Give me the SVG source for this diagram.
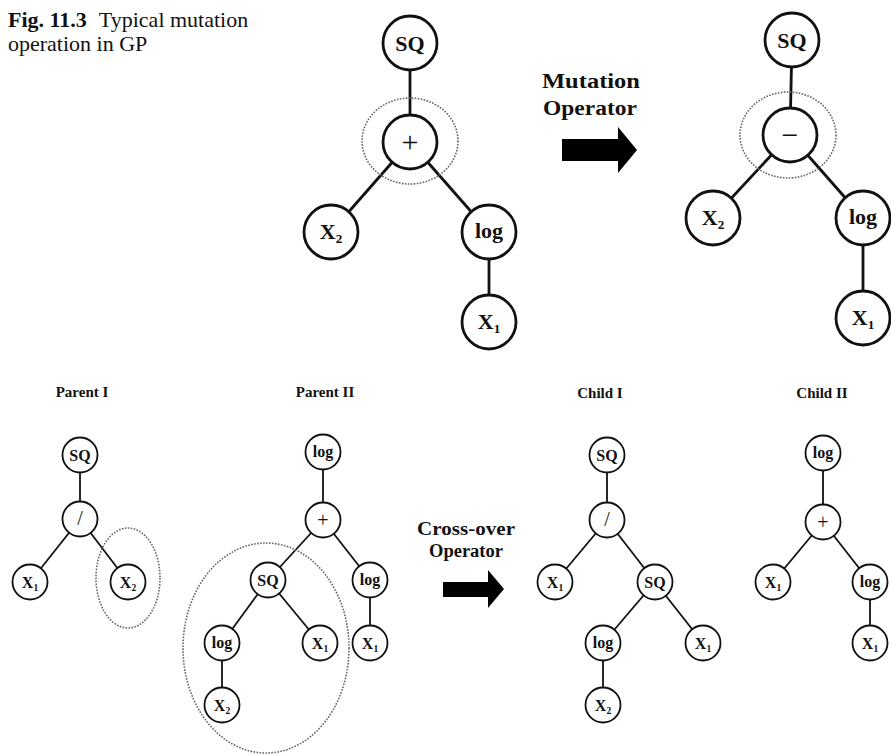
<svg xmlns="http://www.w3.org/2000/svg" width="891" height="754" viewBox="0 0 891 754">
  <style>
    text { font-family: "Liberation Serif", "Times New Roman", serif; fill: #111; }
    .cap { font-size: 22px; }
    .capb { font-size: 22px; font-weight: bold; }
    .op { font-size: 20px; font-weight: bold; text-anchor: middle; }
    .hd { font-size: 15px; font-weight: bold; text-anchor: middle; }
    .big circle { fill: #fff; stroke: #111; stroke-width: 2.8; }
    .big text { font-size: 22px; font-weight: bold; text-anchor: middle; }
    .sm circle { fill: #fff; stroke: #111; stroke-width: 1.8; }
    .sm text { font-size: 16px; font-weight: bold; text-anchor: middle; }
    .big text.sym { font-size: 30px; font-weight: normal; }
    .sm text.sym { font-size: 20px; font-weight: normal; }
    .sub { font-size: 0.6em; }
    .edge-big line { stroke: #111; stroke-width: 2.8; }
    .edge-sm line { stroke: #111; stroke-width: 1.8; }
    .sel { fill: none; stroke: #666; stroke-width: 1.6; stroke-dasharray: 1.6 1.4; }
    .arrow { fill: #000; }
  </style>

  <!-- caption -->
  <text x="8" y="27"><tspan class="capb">Fig. 11.3</tspan><tspan class="cap" dx="12">Typical mutation</tspan></text>
  <text x="8" y="51" class="cap">operation in GP</text>

  <!-- operator labels and block arrows -->
  <g id="mutation-operator">
    <text x="591" y="88" class="op" textLength="98" lengthAdjust="spacingAndGlyphs">Mutation</text>
    <text x="590" y="115" class="op" textLength="94" lengthAdjust="spacingAndGlyphs">Operator</text>
    <polygon class="arrow" points="562,139 618,139 618,127 637,150 618,173 618,161 562,161"/>
  </g>
  <g id="crossover-operator">
    <text x="466" y="535" class="op" style="font-size:18px" textLength="98" lengthAdjust="spacingAndGlyphs">Cross-over</text>
    <text x="466" y="557" class="op" style="font-size:18px" textLength="74" lengthAdjust="spacingAndGlyphs">Operator</text>
    <polygon class="arrow" points="443,582 488,582 488,570 504,589 488,608 488,597 443,597"/>
  </g>

  <!-- tree headings -->
  <text x="82" y="397" class="hd">Parent I</text>
  <text x="325" y="397" class="hd">Parent II</text>
  <text x="600" y="398" class="hd">Child I</text>
  <text x="822" y="398" class="hd">Child II</text>

  <!-- connectors -->
  <g id="connectors">
    <g class="edge-big">
      <!-- original tree -->
      <line x1="410" y1="43" x2="410" y2="142"/>
      <line x1="410" y1="142" x2="331" y2="232"/>
      <line x1="410" y1="142" x2="489" y2="232"/>
      <line x1="489" y1="232" x2="489" y2="322"/>
      <!-- mutated tree -->
      <line x1="792" y1="40" x2="790" y2="135"/>
      <line x1="790" y1="135" x2="713" y2="218"/>
      <line x1="790" y1="135" x2="863" y2="218"/>
      <line x1="863" y1="218" x2="863" y2="318"/>
    </g>
    <g class="edge-sm">
      <!-- Parent I -->
      <line x1="80" y1="455" x2="80" y2="519"/>
      <line x1="80" y1="519" x2="30" y2="582"/>
      <line x1="80" y1="519" x2="128" y2="582"/>
      <!-- Parent II -->
      <line x1="323" y1="452" x2="323" y2="520"/>
      <line x1="323" y1="520" x2="268" y2="580"/>
      <line x1="323" y1="520" x2="370" y2="580"/>
      <line x1="268" y1="580" x2="222" y2="643"/>
      <line x1="268" y1="580" x2="320" y2="643"/>
      <line x1="222" y1="643" x2="222" y2="705"/>
      <line x1="370" y1="580" x2="370" y2="643"/>
      <!-- Child I -->
      <line x1="607" y1="455" x2="607" y2="520"/>
      <line x1="607" y1="520" x2="555" y2="582"/>
      <line x1="607" y1="520" x2="655" y2="582"/>
      <line x1="655" y1="582" x2="603" y2="643"/>
      <line x1="655" y1="582" x2="703" y2="643"/>
      <line x1="603" y1="643" x2="603" y2="705"/>
      <!-- Child II -->
      <line x1="823" y1="453" x2="823" y2="522"/>
      <line x1="823" y1="522" x2="773" y2="582"/>
      <line x1="823" y1="522" x2="870" y2="582"/>
      <line x1="870" y1="582" x2="870" y2="643"/>
    </g>
  </g>

  <!-- selected subtrees (dotted) -->
  <ellipse class="sel" cx="410" cy="141" rx="48" ry="43"/>
  <ellipse class="sel" cx="788" cy="135" rx="48" ry="43"/>
  <ellipse class="sel" cx="128" cy="578" rx="32" ry="50"/>
  <ellipse class="sel" cx="266" cy="648" rx="83" ry="105"/>

  <!-- original tree -->
  <g class="big">
    <g id="m1-sq"><circle cx="410" cy="43" r="27"/><text x="410" y="51">SQ</text></g>
    <g id="m1-plus"><circle cx="410" cy="142" r="27"/><text class="sym" x="410" y="152">+</text></g>
    <g id="m1-x2"><circle cx="331" cy="232" r="27"/><text x="331" y="239">X<tspan class="sub" dy="4">2</tspan></text></g>
    <g id="m1-log"><circle cx="489" cy="232" r="27"/><text x="489" y="238">log</text></g>
    <g id="m1-x1"><circle cx="489" cy="322" r="27"/><text x="489" y="329">X<tspan class="sub" dy="4">1</tspan></text></g>
  </g>

  <!-- mutated tree -->
  <g class="big">
    <g id="m2-sq"><circle cx="792" cy="40" r="27"/><text x="792" y="48">SQ</text></g>
    <g id="m2-minus"><circle cx="790" cy="135" r="27"/><text class="sym" x="790" y="145">−</text></g>
    <g id="m2-x2"><circle cx="713" cy="218" r="27"/><text x="713" y="225">X<tspan class="sub" dy="4">2</tspan></text></g>
    <g id="m2-log"><circle cx="863" cy="218" r="27"/><text x="863" y="224">log</text></g>
    <g id="m2-x1"><circle cx="863" cy="318" r="27"/><text x="863" y="325">X<tspan class="sub" dy="4">1</tspan></text></g>
  </g>

  <!-- Parent I -->
  <g class="sm">
    <g id="p1-sq"><circle cx="80" cy="455" r="17.5"/><text x="80" y="461">SQ</text></g>
    <g id="p1-div"><circle cx="80" cy="519" r="17.5"/><text class="sym" x="80" y="525">/</text></g>
    <g id="p1-x1"><circle cx="30" cy="582" r="17.5"/><text x="30" y="588">X<tspan class="sub" dy="3">1</tspan></text></g>
    <g id="p1-x2"><circle cx="128" cy="582" r="17.5"/><text x="128" y="588">X<tspan class="sub" dy="3">2</tspan></text></g>
  </g>

  <!-- Parent II -->
  <g class="sm">
    <g id="p2-log"><circle cx="323" cy="452" r="17.5"/><text x="323" y="457">log</text></g>
    <g id="p2-plus"><circle cx="323" cy="520" r="17.5"/><text class="sym" x="323" y="527">+</text></g>
    <g id="p2-sq"><circle cx="268" cy="580" r="17.5"/><text x="268" y="586">SQ</text></g>
    <g id="p2-log-r"><circle cx="370" cy="580" r="17.5"/><text x="370" y="585">log</text></g>
    <g id="p2-log-l"><circle cx="222" cy="643" r="17.5"/><text x="222" y="648">log</text></g>
    <g id="p2-x1-a"><circle cx="320" cy="643" r="17.5"/><text x="320" y="649">X<tspan class="sub" dy="3">1</tspan></text></g>
    <g id="p2-x1-b"><circle cx="370" cy="643" r="17.5"/><text x="370" y="649">X<tspan class="sub" dy="3">1</tspan></text></g>
    <g id="p2-x2"><circle cx="222" cy="705" r="17.5"/><text x="222" y="711">X<tspan class="sub" dy="3">2</tspan></text></g>
  </g>

  <!-- Child I -->
  <g class="sm">
    <g id="c1-sq"><circle cx="607" cy="455" r="17.5"/><text x="607" y="461">SQ</text></g>
    <g id="c1-div"><circle cx="607" cy="520" r="17.5"/><text class="sym" x="607" y="526">/</text></g>
    <g id="c1-x1"><circle cx="555" cy="582" r="17.5"/><text x="555" y="588">X<tspan class="sub" dy="3">1</tspan></text></g>
    <g id="c1-sq2"><circle cx="655" cy="582" r="17.5"/><text x="655" y="588">SQ</text></g>
    <g id="c1-log"><circle cx="603" cy="643" r="17.5"/><text x="603" y="648">log</text></g>
    <g id="c1-x1b"><circle cx="703" cy="643" r="17.5"/><text x="703" y="649">X<tspan class="sub" dy="3">1</tspan></text></g>
    <g id="c1-x2"><circle cx="603" cy="705" r="17.5"/><text x="603" y="711">X<tspan class="sub" dy="3">2</tspan></text></g>
  </g>

  <!-- Child II -->
  <g class="sm">
    <g id="c2-log"><circle cx="823" cy="453" r="17.5"/><text x="823" y="458">log</text></g>
    <g id="c2-plus"><circle cx="823" cy="522" r="17.5"/><text class="sym" x="823" y="529">+</text></g>
    <g id="c2-x1"><circle cx="773" cy="582" r="17.5"/><text x="773" y="588">X<tspan class="sub" dy="3">1</tspan></text></g>
    <g id="c2-log2"><circle cx="870" cy="582" r="17.5"/><text x="870" y="587">log</text></g>
    <g id="c2-x1b"><circle cx="870" cy="643" r="17.5"/><text x="870" y="649">X<tspan class="sub" dy="3">1</tspan></text></g>
  </g>
</svg>
